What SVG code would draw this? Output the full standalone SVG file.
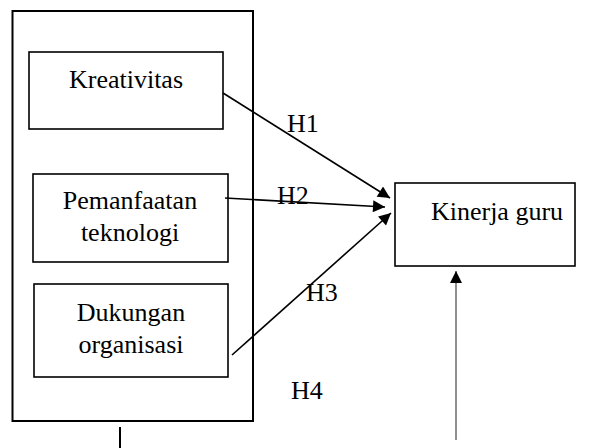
<svg xmlns="http://www.w3.org/2000/svg" width="595" height="448" viewBox="0 0 595 448">
<style>
.box{fill:#fff;stroke:#000;stroke-width:1.6}
.t{font-family:"Liberation Serif","Times New Roman",serif;font-size:26px;fill:#000}
.c{stroke:#000;stroke-width:1.6;fill:none}
</style>
<defs>
<marker id="ah" viewBox="0 0 10 10" refX="10" refY="5" markerWidth="15" markerHeight="12" markerUnits="userSpaceOnUse" orient="auto"><path d="M0,0L10,5L0,10z" fill="#000"/></marker>
</defs>
<rect width="595" height="448" fill="#fff"/>
<g id="outer"><rect x="12.5" y="11" width="240.5" height="410" fill="none" stroke="#000" stroke-width="2"/></g>
<g id="kreativitas"><rect class="box" x="29" y="52" width="194" height="77"/><text class="t" x="126" y="88" text-anchor="middle">Kreativitas</text></g>
<g id="pemanfaatan"><rect class="box" x="33" y="174" width="195" height="88"/><text class="t" x="130" y="209" text-anchor="middle">Pemanfaatan</text><text class="t" x="130" y="241" text-anchor="middle">teknologi</text></g>
<g id="dukungan"><rect class="box" x="34" y="284" width="194" height="93"/><text class="t" x="131" y="321" text-anchor="middle">Dukungan</text><text class="t" x="131" y="353" text-anchor="middle">organisasi</text></g>
<g id="kinerja"><rect class="box" x="395" y="183" width="180" height="83"/><text class="t" x="497" y="220" text-anchor="middle">Kinerja guru</text></g>
<g id="connectors">
<line class="c" x1="223" y1="93" x2="390" y2="198" marker-end="url(#ah)"/>
<line class="c" x1="225" y1="198" x2="385" y2="207" stroke-width="2.5" marker-end="url(#ah)"/>
<line class="c" x1="232" y1="355" x2="391" y2="213" marker-end="url(#ah)"/>
<line x1="456" y1="440" x2="456" y2="271" stroke="#444" stroke-width="1.2" marker-end="url(#ah)"/>
<line x1="120" y1="427" x2="120" y2="448" stroke="#000" stroke-width="2"/>
</g>
<g id="labels">
<text class="t" x="287" y="132">H1</text>
<text class="t" x="277" y="204">H2</text>
<text class="t" x="306" y="301">H3</text>
<text class="t" x="291" y="399">H4</text>
</g>
</svg>
